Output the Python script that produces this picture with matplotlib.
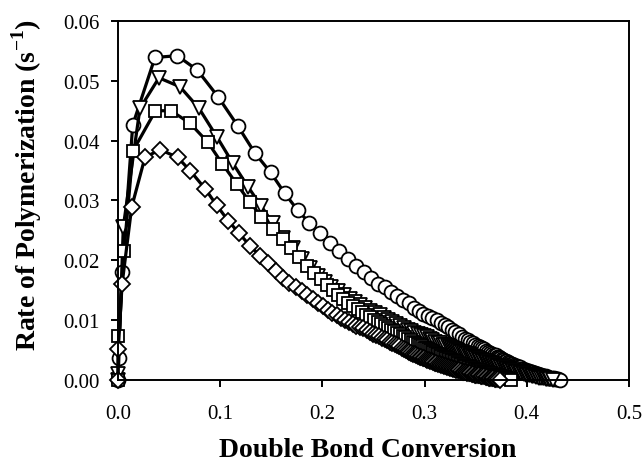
import matplotlib
matplotlib.use('Agg')
import matplotlib.pyplot as plt

# circles
c_x = [0.0000, 0.0005, 0.0040, 0.0144, 0.0362, 0.0580, 0.0776, 0.0981, 0.1171,
       0.1341, 0.1493, 0.1632, 0.1757, 0.1871, 0.1976, 0.2074, 0.2166, 0.2252, 0.2333,
       0.2409, 0.2481, 0.2549, 0.2613, 0.2675, 0.2734, 0.2790, 0.2844, 0.2895, 0.2943,
       0.2989, 0.3033, 0.3076, 0.3118, 0.3158, 0.3196, 0.3233, 0.3268, 0.3302, 0.3334,
       0.3364, 0.3393, 0.3421, 0.3447, 0.3472, 0.3496, 0.3519, 0.3541, 0.3563, 0.3584,
       0.3604, 0.3624, 0.3643, 0.3661, 0.3679, 0.3696, 0.3712, 0.3728, 0.3743, 0.3758,
       0.3772, 0.3785, 0.3798,
       0.3813, 0.3828, 0.3843, 0.3858, 0.3873, 0.3888, 0.3903, 0.3918, 0.3933, 0.3948,
       0.3963, 0.3978, 0.3993, 0.4008, 0.4023, 0.4038, 0.4053, 0.4068, 0.4083, 0.4098,
       0.4113, 0.4128, 0.4143, 0.4158, 0.4173, 0.4188, 0.4203, 0.4218, 0.4233, 0.4248,
       0.4263, 0.4278, 0.4293, 0.4308, 0.4325]
c_y = [0.0000, 0.0036, 0.0180, 0.0426, 0.0539, 0.0542, 0.0518, 0.0473, 0.0425,
       0.0379, 0.0347, 0.0312, 0.0284, 0.0263, 0.0246, 0.0229, 0.0215, 0.0202, 0.0190,
       0.0181, 0.0171, 0.0161, 0.0155, 0.0147, 0.0140, 0.0134, 0.0128, 0.0121, 0.0116,
       0.0111, 0.0107, 0.0104, 0.0100, 0.0096, 0.0092, 0.0088, 0.0084, 0.0080, 0.0076,
       0.0072, 0.0069, 0.0066, 0.0063, 0.0061, 0.0058, 0.0056, 0.0055, 0.0053, 0.0051,
       0.0049, 0.0047, 0.0045, 0.0044, 0.0042, 0.0041, 0.0039, 0.0038, 0.0036, 0.0035,
       0.0034, 0.0032, 0.0031,
       0.0030, 0.0028, 0.0027, 0.0026, 0.0025, 0.0024, 0.0023, 0.0022, 0.0021, 0.0019,
       0.0018, 0.0017, 0.0016, 0.0015, 0.0015, 0.0014, 0.0013, 0.0012, 0.0011, 0.0010,
       0.0010, 0.0009, 0.0008, 0.0007, 0.0007, 0.0006, 0.0005, 0.0004, 0.0004, 0.0003,
       0.0003, 0.0002, 0.0001, 0.0001, 0.0000]

# down triangles
t_x = [0.0000, 0.0003, 0.0052, 0.0215, 0.0401, 0.0607, 0.0793, 0.0969, 0.1125, 0.1272,
       0.1404, 0.1516, 0.1618, 0.1710,
       0.1798, 0.1879, 0.1954, 0.2023, 0.2088, 0.2150, 0.2209, 0.2266, 0.2320, 0.2372,
       0.2422, 0.2470, 0.2516, 0.2561, 0.2604, 0.2646, 0.2686, 0.2725, 0.2763, 0.2799,
       0.2834, 0.2868, 0.2900, 0.2932, 0.2963, 0.2993, 0.3022, 0.3050, 0.3078, 0.3104,
       0.3130, 0.3155, 0.3179, 0.3203, 0.3226, 0.3248, 0.3270, 0.3291, 0.3312, 0.3332,
       0.3351, 0.3370, 0.3388, 0.3406, 0.3424, 0.3441, 0.3458, 0.3474, 0.3490, 0.3505,
       0.3520, 0.3534, 0.3548, 0.3562, 0.3575, 0.3588, 0.3600,
       0.3615, 0.3630, 0.3645, 0.3660, 0.3675, 0.3690, 0.3705, 0.3720, 0.3735, 0.3750,
       0.3765, 0.3780, 0.3795, 0.3810, 0.3825, 0.3840, 0.3855, 0.3870, 0.3885, 0.3900,
       0.3915, 0.3930, 0.3945, 0.3960, 0.3975, 0.3990, 0.4005, 0.4020, 0.4035, 0.4050,
       0.4065, 0.4080, 0.4095, 0.4110, 0.4125, 0.4140, 0.4155, 0.4170, 0.4185, 0.4200,
       0.4215, 0.4230, 0.4260]
t_y = [0.0000, 0.0010, 0.0256, 0.0454, 0.0505, 0.0490, 0.0454, 0.0406, 0.0362, 0.0323,
       0.0290, 0.0262, 0.0238, 0.0220,
       0.0202, 0.0187, 0.0173, 0.0163, 0.0155, 0.0148, 0.0142, 0.0135, 0.0130, 0.0125,
       0.0120, 0.0116, 0.0112, 0.0108, 0.0104, 0.0101, 0.0097, 0.0094, 0.0090, 0.0087,
       0.0084, 0.0081, 0.0079, 0.0077, 0.0075, 0.0073, 0.0071, 0.0069, 0.0066, 0.0064,
       0.0062, 0.0061, 0.0059, 0.0058, 0.0056, 0.0055, 0.0053, 0.0052, 0.0050, 0.0049,
       0.0047, 0.0046, 0.0045, 0.0044, 0.0043, 0.0041, 0.0040, 0.0039, 0.0038, 0.0037,
       0.0036, 0.0035, 0.0034, 0.0033, 0.0032, 0.0031, 0.0031,
       0.0030, 0.0029, 0.0028, 0.0027, 0.0026, 0.0025, 0.0024, 0.0024, 0.0023, 0.0022,
       0.0021, 0.0020, 0.0019, 0.0018, 0.0017, 0.0016, 0.0016, 0.0015, 0.0014, 0.0014,
       0.0013, 0.0012, 0.0011, 0.0011, 0.0010, 0.0009, 0.0009, 0.0008, 0.0008, 0.0007,
       0.0006, 0.0006, 0.0005, 0.0005, 0.0004, 0.0004, 0.0003, 0.0003, 0.0002, 0.0002,
       0.0001, 0.0001, 0.0000]

# squares
s_x = [0.0000, 0.0003, 0.0059, 0.0147, 0.0367, 0.0519, 0.0705, 0.0881, 0.1022, 0.1161,
       0.1292, 0.1404, 0.1514, 0.1612,
       0.1697, 0.1776, 0.1850, 0.1919, 0.1983, 0.2043, 0.2100, 0.2154, 0.2205, 0.2254,
       0.2300, 0.2345, 0.2387, 0.2428, 0.2467, 0.2505, 0.2541, 0.2576, 0.2610, 0.2642,
       0.2673, 0.2703, 0.2732, 0.2760, 0.2787, 0.2813, 0.2839, 0.2864, 0.2888, 0.2911,
       0.2933, 0.2955, 0.2976, 0.2996, 0.3015, 0.3034, 0.3052, 0.3070, 0.3087, 0.3104,
       0.3120, 0.3136, 0.3151,
       0.3166, 0.3181, 0.3196, 0.3211, 0.3226, 0.3241, 0.3256, 0.3271, 0.3286, 0.3301,
       0.3316, 0.3331, 0.3346, 0.3361, 0.3376, 0.3391, 0.3406, 0.3421, 0.3436, 0.3451,
       0.3466, 0.3481, 0.3496, 0.3511, 0.3526, 0.3541, 0.3556, 0.3571, 0.3586, 0.3601,
       0.3616, 0.3631, 0.3646, 0.3661, 0.3676, 0.3691, 0.3706, 0.3721, 0.3736, 0.3751,
       0.3766, 0.3781, 0.3796, 0.3811, 0.3826, 0.3850]
s_y = [0.0000, 0.0074, 0.0216, 0.0383, 0.0450, 0.0450, 0.0429, 0.0397, 0.0361, 0.0328,
       0.0297, 0.0273, 0.0253, 0.0236,
       0.0220, 0.0205, 0.0191, 0.0179, 0.0168, 0.0158, 0.0150, 0.0142, 0.0135, 0.0129,
       0.0124, 0.0118, 0.0113, 0.0109, 0.0105, 0.0100, 0.0097, 0.0093, 0.0090, 0.0087,
       0.0084, 0.0081, 0.0078, 0.0076, 0.0073, 0.0071, 0.0068, 0.0066, 0.0064, 0.0062,
       0.0060, 0.0058, 0.0056, 0.0054, 0.0053, 0.0051, 0.0050, 0.0048, 0.0047, 0.0045,
       0.0044, 0.0043, 0.0042,
       0.0040, 0.0039, 0.0038, 0.0037, 0.0036, 0.0035, 0.0034, 0.0033, 0.0032, 0.0031,
       0.0030, 0.0029, 0.0027, 0.0026, 0.0025, 0.0024, 0.0024, 0.0023, 0.0022, 0.0021,
       0.0020, 0.0019, 0.0018, 0.0017, 0.0017, 0.0016, 0.0015, 0.0014, 0.0014, 0.0013,
       0.0012, 0.0011, 0.0011, 0.0010, 0.0009, 0.0009, 0.0008, 0.0007, 0.0007, 0.0006,
       0.0005, 0.0004, 0.0003, 0.0003, 0.0002, 0.0000]

# diamonds
d_x = [0.0000, 0.0003, 0.0040, 0.0134, 0.0264, 0.0411, 0.0584, 0.0705, 0.0851, 0.0966,
       0.1079, 0.1187, 0.1292, 0.1389, 0.1468,
       0.1542, 0.1611, 0.1676, 0.1738, 0.1797, 0.1853, 0.1907, 0.1958, 0.2007, 0.2054,
       0.2098, 0.2141, 0.2182, 0.2222, 0.2260, 0.2297, 0.2333, 0.2368, 0.2402, 0.2435,
       0.2467, 0.2497, 0.2526, 0.2555, 0.2583, 0.2610, 0.2636, 0.2661, 0.2685, 0.2709,
       0.2732, 0.2754, 0.2775, 0.2796, 0.2816, 0.2835, 0.2853, 0.2871, 0.2888, 0.2905,
       0.2921, 0.2937, 0.2952,
       0.2967, 0.2982, 0.2997, 0.3012, 0.3027, 0.3042, 0.3057, 0.3072, 0.3087, 0.3102,
       0.3117, 0.3132, 0.3147, 0.3162, 0.3177, 0.3192, 0.3207, 0.3222, 0.3237, 0.3252,
       0.3267, 0.3282, 0.3297, 0.3312, 0.3327, 0.3342, 0.3357, 0.3372, 0.3387, 0.3402,
       0.3417, 0.3432, 0.3447, 0.3462, 0.3477, 0.3492, 0.3507, 0.3522, 0.3537, 0.3552,
       0.3567, 0.3582, 0.3597, 0.3612, 0.3627, 0.3642, 0.3657, 0.3672, 0.3687, 0.3702,
       0.3717, 0.3738]
d_y = [0.0000, 0.0052, 0.0160, 0.0289, 0.0372, 0.0385, 0.0372, 0.0350, 0.0320, 0.0292,
       0.0266, 0.0245, 0.0224, 0.0208, 0.0195,
       0.0182, 0.0171, 0.0162, 0.0155, 0.0148, 0.0142, 0.0135, 0.0129, 0.0123, 0.0117,
       0.0112, 0.0108, 0.0104, 0.0100, 0.0097, 0.0094, 0.0091, 0.0089, 0.0086, 0.0083,
       0.0080, 0.0077, 0.0075, 0.0073, 0.0070, 0.0068, 0.0066, 0.0064, 0.0062, 0.0060,
       0.0058, 0.0056, 0.0054, 0.0052, 0.0050, 0.0048, 0.0047, 0.0045, 0.0044, 0.0043,
       0.0041, 0.0040, 0.0039,
       0.0038, 0.0037, 0.0036, 0.0035, 0.0034, 0.0033, 0.0032, 0.0031, 0.0030, 0.0029,
       0.0028, 0.0027, 0.0026, 0.0025, 0.0025, 0.0024, 0.0023, 0.0022, 0.0021, 0.0020,
       0.0020, 0.0019, 0.0018, 0.0017, 0.0017, 0.0016, 0.0015, 0.0014, 0.0014, 0.0013,
       0.0012, 0.0012, 0.0011, 0.0010, 0.0010, 0.0009, 0.0009, 0.0008, 0.0008, 0.0007,
       0.0007, 0.0006, 0.0005, 0.0005, 0.0004, 0.0004, 0.0003, 0.0003, 0.0002, 0.0002,
       0.0001, 0.0000]

x_ticks = [0.0, 0.1, 0.2, 0.3, 0.4, 0.5]
y_ticks = [0.00, 0.01, 0.02, 0.03, 0.04, 0.05, 0.06]

plt.rcParams['font.family'] = ['Liberation Serif', 'DejaVu Serif']
plt.rcParams['mathtext.fontset'] = 'custom'
plt.rcParams['mathtext.rm'] = 'Liberation Serif:bold'
plt.rcParams['mathtext.bf'] = 'Liberation Serif:bold'

fig = plt.figure(figsize=(6.43, 4.64), dpi=100)
ax = fig.add_axes([0.1835, 0.179, 0.7945, 0.7736])

series = [(c_x, c_y, 'o', 10.0), (t_x, t_y, 'v', 10.5),
          (s_x, s_y, 's', 9.0), (d_x, d_y, 'D', 7.8)]
for xs, ys, mk, ms in series:
    ax.plot(xs, ys, color='black', lw=2.3, marker=mk, markersize=ms,
            markerfacecolor='white', markeredgecolor='black', markeredgewidth=1.3,
            clip_on=False)

ax.set_xlim(0, 0.5)
ax.set_ylim(0, 0.06)
ax.set_xticks(x_ticks)
ax.set_yticks(y_ticks)
ax.set_xticklabels(['%.1f' % v for v in x_ticks])
ax.set_yticklabels(['%.2f' % v for v in y_ticks])
ax.tick_params(axis='x', direction='out', length=5, width=1.4, labelsize=15, pad=12,
               top=False)
ax.tick_params(axis='y', direction='out', length=5, width=1.4, labelsize=15, pad=8,
               right=False)
for sp in ax.spines.values():
    sp.set_linewidth(1.4)

ax.set_xlabel('Double Bond Conversion', fontsize=20, fontweight='bold')
ax.set_ylabel(r'Rate of Polymerization (s$^{\mathbf{-1}}$)', fontsize=20, fontweight='bold')
ax.xaxis.set_label_coords(0.488, -0.16)
ax.yaxis.set_label_coords(-0.145, 0.546)

fig.savefig('out.png', dpi=100)
